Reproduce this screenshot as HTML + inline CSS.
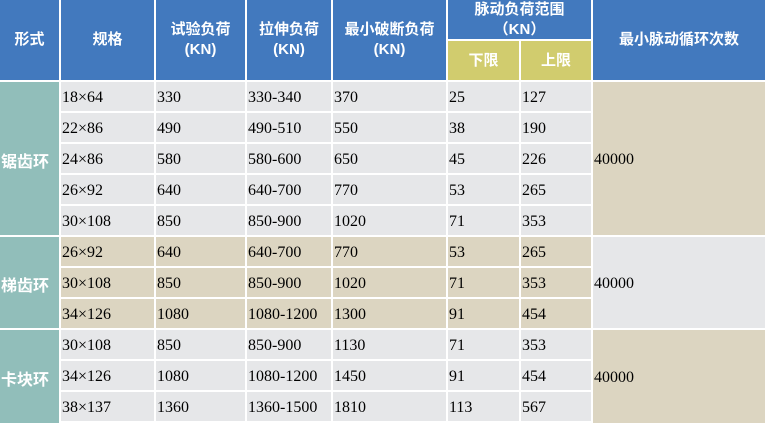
<!DOCTYPE html>
<html><head><meta charset="utf-8"><style>
body{margin:0;width:765px;height:422px;background:#fff;position:relative;overflow:hidden}
.c{position:absolute;display:flex;align-items:center;box-sizing:border-box;font-family:"Liberation Serif","Noto Serif CJK SC",serif;font-size:16px;color:#000;padding-left:1px;padding-top:2px;white-space:nowrap}
.h{background:#4279BE;color:#fff;font-family:"Liberation Sans","Noto Sans CJK SC",sans-serif;font-weight:bold;font-size:15px;justify-content:center;text-align:center;line-height:20px;padding:0}
.y{background:#D1CC6E}
.g{background:#E6E7E9}
.b{background:#DCD5C1}
.t{background:#91BEBA;color:#fff;font-family:"Liberation Sans","Noto Sans CJK SC",sans-serif;font-weight:bold;font-size:16px;padding-left:1px}
</style></head><body>
<div class="c h" style="left:0;top:0;width:59px;height:80px">形式</div>
<div class="c h" style="left:61px;top:0;width:93px;height:80px">规格</div>
<div class="c h" style="left:156px;top:0;width:89px;height:80px">试验负荷<br>(KN)</div>
<div class="c h" style="left:247px;top:0;width:84px;height:80px">拉伸负荷<br>(KN)</div>
<div class="c h" style="left:333px;top:0;width:113px;height:80px">最小破断负荷<br>(KN)</div>
<div class="c h" style="left:448px;top:0;width:143px;height:39px">脉动负荷范围<br>（KN）</div>
<div class="c h y" style="left:448px;top:41px;width:71px;height:39px">下限</div>
<div class="c h y" style="left:521px;top:41px;width:70px;height:39px">上限</div>
<div class="c h" style="left:593px;top:0;width:172px;height:80px">最小脉动循环次数</div>
<div id="d"></div>
<script>
var xs=[0,61,156,247,333,448,521],ws=[59,93,89,84,113,71,70];
var rows=[["18×64","330","330-340","370","25","127"],["22×86","490","490-510","550","38","190"],["24×86","580","580-600","650","45","226"],["26×92","640","640-700","770","53","265"],["30×108","850","850-900","1020","71","353"],["26×92","640","640-700","770","53","265"],["30×108","850","850-900","1020","71","353"],["34×126","1080","1080-1200","1300","91","454"],["30×108","850","850-900","1130","71","353"],["34×126","1080","1080-1200","1450","91","454"],["38×137","1360","1360-1500","1810","113","567"]];
var h="";
for(var i=0;i<11;i++){var y=82+31*i;var cl=(i>=5&&i<=7)?"b":"g";
for(var j=0;j<6;j++)h+='<div class="c '+cl+'" style="left:'+xs[j+1]+'px;top:'+y+'px;width:'+ws[j+1]+'px;height:29px">'+rows[i][j]+'</div>';}
var grp=[[0,5,"锯齿环","b"],[5,3,"梯齿环","g"],[8,3,"卡块环","b"]];
grp.forEach(function(g){var y=82+31*g[0],hh=31*g[1]-2;if(g[0]+g[1]==11)hh+=2;
h+='<div class="c t" style="left:0;top:'+y+'px;width:59px;height:'+hh+'px">'+g[2]+'</div>';
h+='<div class="c '+g[3]+'" style="left:593px;top:'+y+'px;width:172px;height:'+hh+'px">40000</div>';});
document.getElementById("d").innerHTML=h;
</script>
</body></html>
